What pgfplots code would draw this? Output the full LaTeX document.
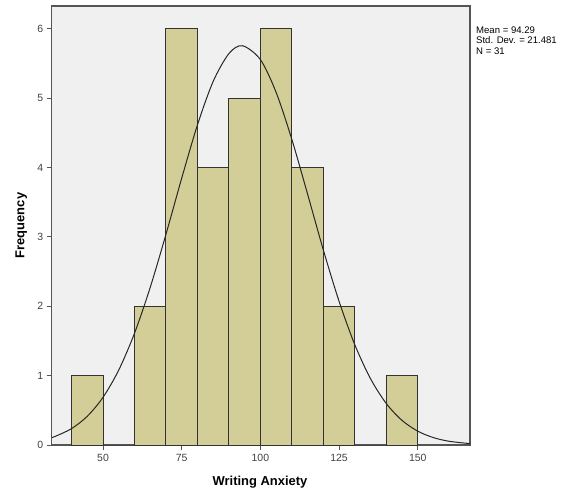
\documentclass[border=0pt]{standalone}
\usepackage{pgfplots}
\pgfplotsset{compat=1.18}
\usepackage{fontspec}
\setmainfont{Liberation Sans}
\definecolor{barfill}{RGB}{211,206,151}
\definecolor{bgfill}{RGB}{240,240,240}
\definecolor{framec}{RGB}{85,85,85}
\begin{document}
\begin{tikzpicture}
\path[use as bounding box] (0,0) rectangle (564bp,493bp);
\begin{axis}[
  at={(51.7bp,48bp)}, anchor=south west,
  scale only axis, width=418.3bp, height=439bp,
  xmin=33.7, xmax=166.6, ymin=0, ymax=6.33,
  axis background/.style={fill=bgfill},
  axis line style={framec, line width=1.2pt},
  xtick={50,75,100,125,150}, ytick={0,1,2,3,4,5,6},
  tick align=outside, tick pos=left,
  major tick length=5bp,
  tick style={framec, line width=0.9pt},
  /pgf/number format/assume math mode=true,
  ticklabel style={font=\fontsize{10.5}{12}\selectfont, text=black!75},
  xticklabel style={yshift=-1bp},
  xlabel={\textbf{Writing Anxiety}},
  ylabel={\textbf{Frequency}},
  label style={font=\fontsize{13}{15}\selectfont},
  xlabel style={at={(axis description cs:0.498,0)}, anchor=north, yshift=-28bp},
  ylabel style={at={(axis description cs:0,0.5)}, anchor=south, yshift=21bp},
  clip=false,
]
\addplot[ybar interval, fill=barfill, draw=black!80, line width=1pt] coordinates {
 (40,1) (50,0) (60,2) (70,6) (80,4) (90,5) (100,6) (110,4) (120,2) (130,0) (140,1) (150,0)
};
\addplot[smooth, black!85, line width=1pt] coordinates {
 (33.7,0.1078) (35,0.1276) (40,0.2361) (45,0.4139) (50,0.6870) (55,1.0806)
 (60,1.6101) (65,2.2724) (70,3.0377) (75,3.8466) (80,4.6142) (85,5.2430)
 (90,5.6434) (94.29,5.757) (100,5.5572) (105,5.0841) (110,4.4061)
 (115,3.6171) (120,2.8127) (125,2.0720) (130,1.4458) (135,0.9555)
 (140,0.5982) (145,0.3549) (150,0.1994) (155,0.1061) (160,0.0535) (166.6,0.0199)
};
\node[anchor=north west, align=left, font=\fontsize{9.6}{10.6}\selectfont, inner sep=0pt]
  at (rel axis cs:1,0.954) [xshift=6bp] {Mean = 94.29\\Std. Dev. = 21.481\\N = 31};
\end{axis}
\end{tikzpicture}
\end{document}
